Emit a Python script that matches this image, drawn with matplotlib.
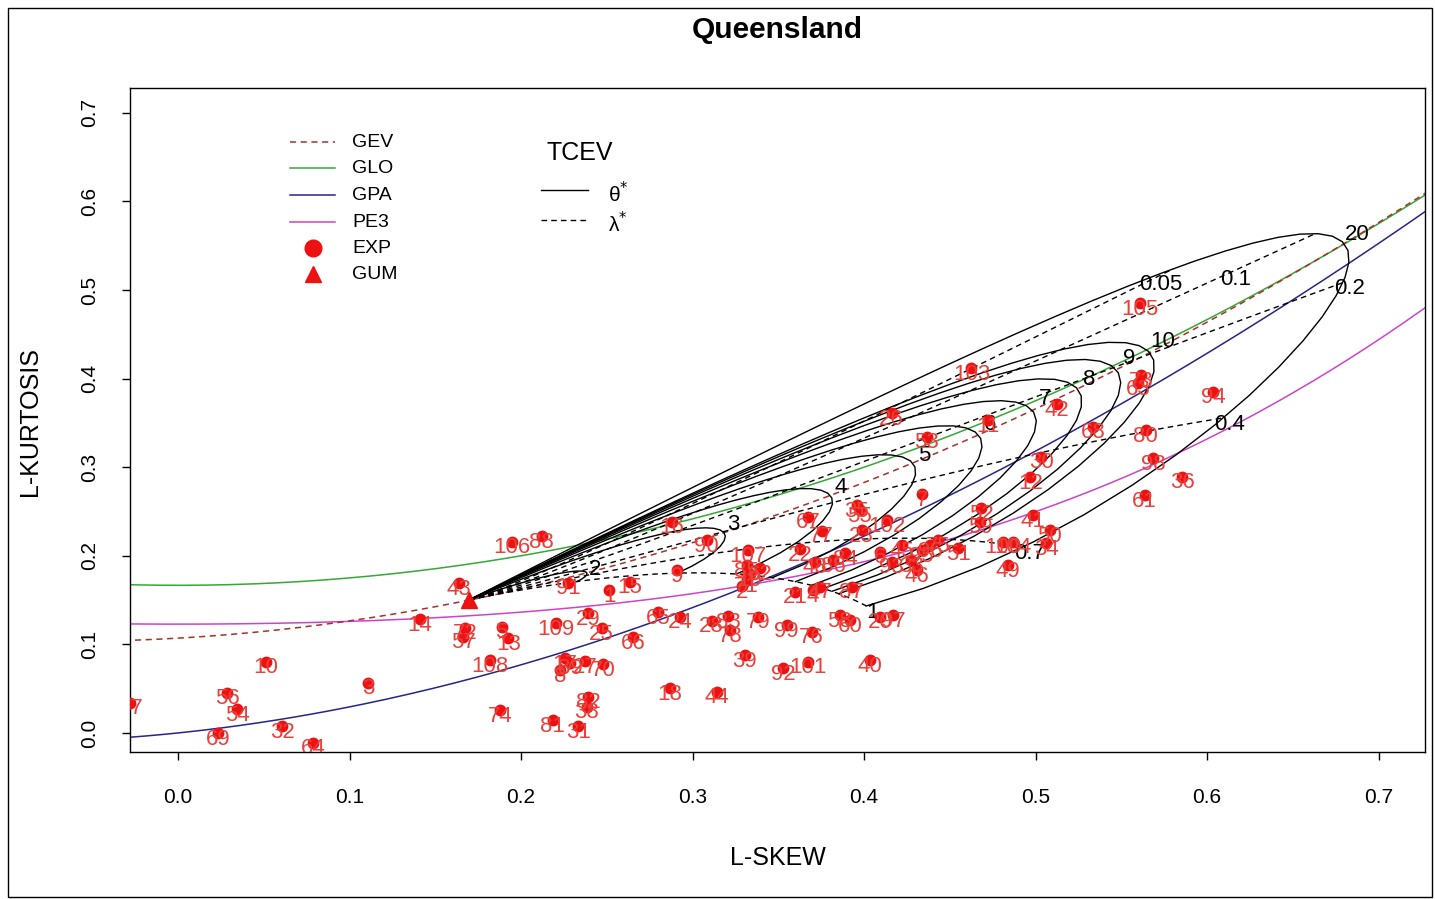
import numpy as np
import matplotlib
matplotlib.use("Agg")
import matplotlib.pyplot as plt
from matplotlib.patches import Rectangle

plt.rcParams["font.family"] = ["Liberation Sans", "DejaVu Sans"]

# ---- station L-moment ratios (L-skewness, L-kurtosis) ----
station_ids = list(range(1, 110))
l_skew = [
    0.2514, 0.3287, 0.1109, 0.3703, 0.1887, 0.4092, 0.4335, 0.2227, 0.2907, 0.0511,
    0.4723, 0.4970, 0.1925, 0.1411, 0.2634, 0.2878, 0.2256, 0.2868, 0.3334, 0.4092,
    0.3596, 0.3625, 0.3985, 0.2926, 0.2470, 0.4160, 0.2372, 0.3111, 0.2391, 0.5034,
    0.2333, 0.0608, 0.4276, 0.5063, 0.3956, 0.5856, -0.0280, 0.2382, 0.3305, 0.4033,
    0.4983, 0.5125, 0.1640, 0.3140, 0.4218, 0.4306, 0.3742, 0.3713, 0.4839, 0.5082,
    0.4548, 0.4684, 0.4364, 0.0346, 0.3975, 0.0287, 0.1663, 0.3858, 0.4675, 0.3917,
    0.5636, 0.3392, 0.5597, 0.0789, 0.2800, 0.2654, 0.3674, 0.5335, 0.0235, 0.2479,
    0.3315, 0.1673, 0.5617, 0.1877, 0.4432, 0.3694, 0.3752, 0.3217, 0.3382, 0.5642,
    0.2184, 0.2391, 0.3207, 0.3888, 0.3316, 0.3819, 0.3927, 0.2120, 0.2285, 0.3082,
    0.2275, 0.3528, 0.4160, 0.6034, 0.4335, 0.4383, 0.4169, 0.5685, 0.3548, 0.4809,
    0.3674, 0.4131, 0.4626, 0.4869, 0.5607, 0.1945, 0.3324, 0.1819, 0.2203,
]
l_kurt = [
    0.1614, 0.1659, 0.0568, 0.1614, 0.1200, 0.2046, 0.2698, 0.0711, 0.1840, 0.0805,
    0.3533, 0.2886, 0.1069, 0.1287, 0.1708, 0.2385, 0.0847, 0.0505, 0.1795, 0.1313,
    0.1595, 0.2073, 0.2291, 0.1313, 0.1182, 0.3608, 0.0813, 0.1267, 0.1351, 0.3119,
    0.0079, 0.0079, 0.1953, 0.2144, 0.2573, 0.2893, 0.0342, 0.0297, 0.0880, 0.0824,
    0.2460, 0.3713, 0.1690, 0.0466, 0.2122, 0.1840, 0.1651, 0.1933, 0.1896, 0.2291,
    0.2085, 0.2536, 0.3344, 0.0267, 0.2517, 0.0455, 0.1087, 0.1332, 0.2385, 0.1275,
    0.2686, 0.1862, 0.3947, -0.0109, 0.1362, 0.1080, 0.2441, 0.3457, -0.0003, 0.0779,
    0.1727, 0.1188, 0.4041, 0.0260, 0.2178, 0.1143, 0.2283, 0.1163, 0.1313, 0.3420,
    0.0147, 0.0410, 0.1321, 0.2028, 0.1896, 0.1953, 0.1651, 0.2223, 0.0793, 0.2178,
    0.1696, 0.0730, 0.1933, 0.3852, 0.2065, 0.2122, 0.1332, 0.3100, 0.1219, 0.2159,
    0.0805, 0.2404, 0.4116, 0.2159, 0.4850, 0.2159, 0.2065, 0.0824, 0.1238,
]

# ---- TCEV parameter sets ----
theta_star = [2, 3, 4, 5, 6, 7, 8, 9, 10, 20]
lambda_star = [0.05, 0.1, 0.2, 0.4, 0.7, 1]
lambda_label_text = ["0.05", "0.1", "0.2", "0.4", "0.7", "1"]
lambda_label_theta = [19.0, 15.5, 20, 20, 20, 20]   # theta* where each lambda* label sits
theta_max = 20
# label nudges (points) for the theta* loops, right of each loop's tip
theta_label_dy = [2.9, 8.6, 12.2, 14.0, 16.6, 15.8, 20.0, 17.3, 21.6, 20.2]

# Gumbel (EV1) point
gum_t3, gum_t4 = 0.1699, 0.1504

C_GEV, C_GLO, C_GPA, C_PE3 = "#a8302c", "#36a836", "#25258a", "#cc44cc"
C_PT, C_LAB = "#ee1111", "#e8403a"
DASH = (0, (4, 3))


def tcev_ratios(theta, lam):
    """L-skewness and L-kurtosis of the standardised TCEV
    F(y) = exp(-exp(-y) - lam * exp(-y / theta)), from its PWMs."""
    ymax = 30.0 * theta + 30.0
    n = int(20000 + 3000 * theta)
    y = np.linspace(-4.0, ymax, n)
    F = np.exp(-np.exp(-y) - lam * np.exp(-y / theta))
    ym = 0.5 * (y[1:] + y[:-1])
    b = [np.sum(ym * np.diff(F ** (r + 1))) / (r + 1) for r in range(4)]
    b0, b1, b2, b3 = b
    l2 = 2 * b1 - b0
    l3 = 6 * b2 - 6 * b1 + b0
    l4 = 20 * b3 - 30 * b2 + 12 * b1 - b0
    return l3 / l2, l4 / l2


W, H = 1435, 899
fig = plt.figure(figsize=(W / 100, H / 100), dpi=100)
ax = fig.add_axes([130 / W, 1 - 752 / H, 1295 / W, 664 / H])
ax.set_xlim(-0.028, 0.727)
ax.set_ylim(-0.0215, 0.728)

# three-parameter distribution curves (Hosking polynomial approximations)
t = np.linspace(-0.05, 0.75, 300)
gev = (0.10701 + 0.11090 * t + 0.84838 * t**2 - 0.06669 * t**3
       + 0.00567 * t**4 - 0.04208 * t**5 + 0.03763 * t**6)
glo = (1 + 5 * t**2) / 6
gpa = t * (1 + 5 * t) / (5 + t)
pe3 = (0.12282 + 0.30115 * t**2 + 0.95812 * t**4 - 0.57488 * t**6
       + 0.19383 * t**8)
ax.plot(t, glo, color=C_GLO, lw=1.1)
ax.plot(t, gpa, color=C_GPA, lw=1.1)
ax.plot(t, pe3, color=C_PE3, lw=1.1)
ax.plot(t, gev, color=C_GEV, lw=1.1, ls=DASH)

# TCEV: constant theta* (solid loops over lambda*), constant lambda* (dashed)
lam_grid = np.logspace(-6, 0, 110)
for th, dy in zip(theta_star, theta_label_dy):
    pts = np.array([tcev_ratios(th, l) for l in lam_grid])
    ax.plot(pts[:, 0], pts[:, 1], color="black", lw=1.0)
    k = np.argmax(pts[:, 0])
    ax.annotate(str(th), (pts[k, 0], pts[k, 1]), xytext=(6, dy),
                textcoords="offset points", ha="center", va="center",
                fontsize=16, color="black")

th_grid = np.logspace(0, np.log10(theta_max), 70)
for lm, lt, txt in zip(lambda_star, lambda_label_theta, lambda_label_text):
    pts = np.array([tcev_ratios(th, lm) for th in th_grid])
    ax.plot(pts[:, 0], pts[:, 1], color="black", lw=1.0, ls=DASH)
    lx, ly = tcev_ratios(lt, lm)
    ax.annotate(txt, (lx, ly), xytext=(4.5, -4.5), textcoords="offset points",
                ha="center", va="center", fontsize=16, color="black")

# stations
ax.plot(l_skew, l_kurt, "o", color=C_PT, ms=7.5, mec=C_PT, zorder=5)
for i, x, y in zip(station_ids, l_skew, l_kurt):
    a = ax.annotate(str(i), (x, y), xytext=(0, -4.5), textcoords="offset points",
                    ha="center", va="center", color=C_LAB, fontsize=16,
                    zorder=6)
    a.set_clip_path(ax.patch)
ax.plot([gum_t3], [gum_t4], "^", color=C_PT, ms=11, zorder=7)

# axes styling (base-R look)
ticks = [0.0, 0.1, 0.2, 0.3, 0.4, 0.5, 0.6, 0.7]
tick_text = ["0.0", "0.1", "0.2", "0.3", "0.4", "0.5", "0.6", "0.7"]
ax.set_xticks(ticks)
ax.set_yticks(ticks)
ax.set_xticklabels(tick_text)
ax.set_yticklabels(tick_text, rotation=90, va="center")
ax.tick_params(axis="x", length=6, width=1, pad=20, labelsize=15)
ax.tick_params(axis="y", length=6, width=1, pad=16, labelsize=15)
for s in ax.spines.values():
    s.set_linewidth(1.0)

fig.text(777.5 / W, 1 - 30 / H, "Queensland", ha="center", va="center",
         fontsize=21.5, fontweight="bold")
fig.text(777.5 / W, 1 - 858 / H, "L-SKEW", ha="center", va="center",
         fontsize=18)
fig.text(30 / W, 1 - 422 / H, "L-KURTOSIS", ha="center", va="center",
         fontsize=18, rotation=90)


def ax_xy(px, py):
    return (px - 130) / 1295, (752 - py) / 664


# legend: distributions
leg_names = ["GEV", "GLO", "GPA", "PE3", "EXP", "GUM"]
leg_rows = [142, 168, 195, 222, 248, 274]
leg_styles = [(C_GEV, DASH), (C_GLO, "-"), (C_GPA, "-"), (C_PE3, "-")]
for k, (name, row) in enumerate(zip(leg_names, leg_rows)):
    x0, y0 = ax_xy(290, row)
    x1, _ = ax_xy(335, row)
    xm, _ = ax_xy(313, row)
    if k < 4:
        col, ls = leg_styles[k]
        ax.plot([x0, x1], [y0, y0], color=col, ls=ls, lw=1.1,
                transform=ax.transAxes)
    elif name == "EXP":
        ax.plot([xm], [y0], "o", color=C_PT, ms=12, transform=ax.transAxes)
    else:
        ax.plot([xm], [y0], "^", color=C_PT, ms=12, transform=ax.transAxes)
    tx, _ = ax_xy(352, row)
    ax.text(tx, y0, name, transform=ax.transAxes, ha="left", va="center",
            fontsize=14)

# legend: TCEV parameters
tx, ty = ax_xy(580, 153)
ax.text(tx, ty, "TCEV", transform=ax.transAxes, ha="center", va="center",
        fontsize=18)
for row, ls, sym in [(190, "-", "θ$^{*}$"), (220, DASH, "λ$^{*}$")]:
    x0, y0 = ax_xy(541, row)
    x1, _ = ax_xy(588, row)
    ax.plot([x0, x1], [y0, y0], color="black", ls=ls, lw=1.0,
            transform=ax.transAxes)
    sx, _ = ax_xy(608, row)
    ax.text(sx, y0 - 0.006, sym, transform=ax.transAxes, ha="left",
            va="center", fontsize=15)

# outer frame
fig.patches.append(Rectangle((8 / W, 2 / H), 1424 / W, 889 / H,
                             transform=fig.transFigure, fill=False,
                             edgecolor="black", lw=1.0))

fig.savefig("out.png", dpi=100)
